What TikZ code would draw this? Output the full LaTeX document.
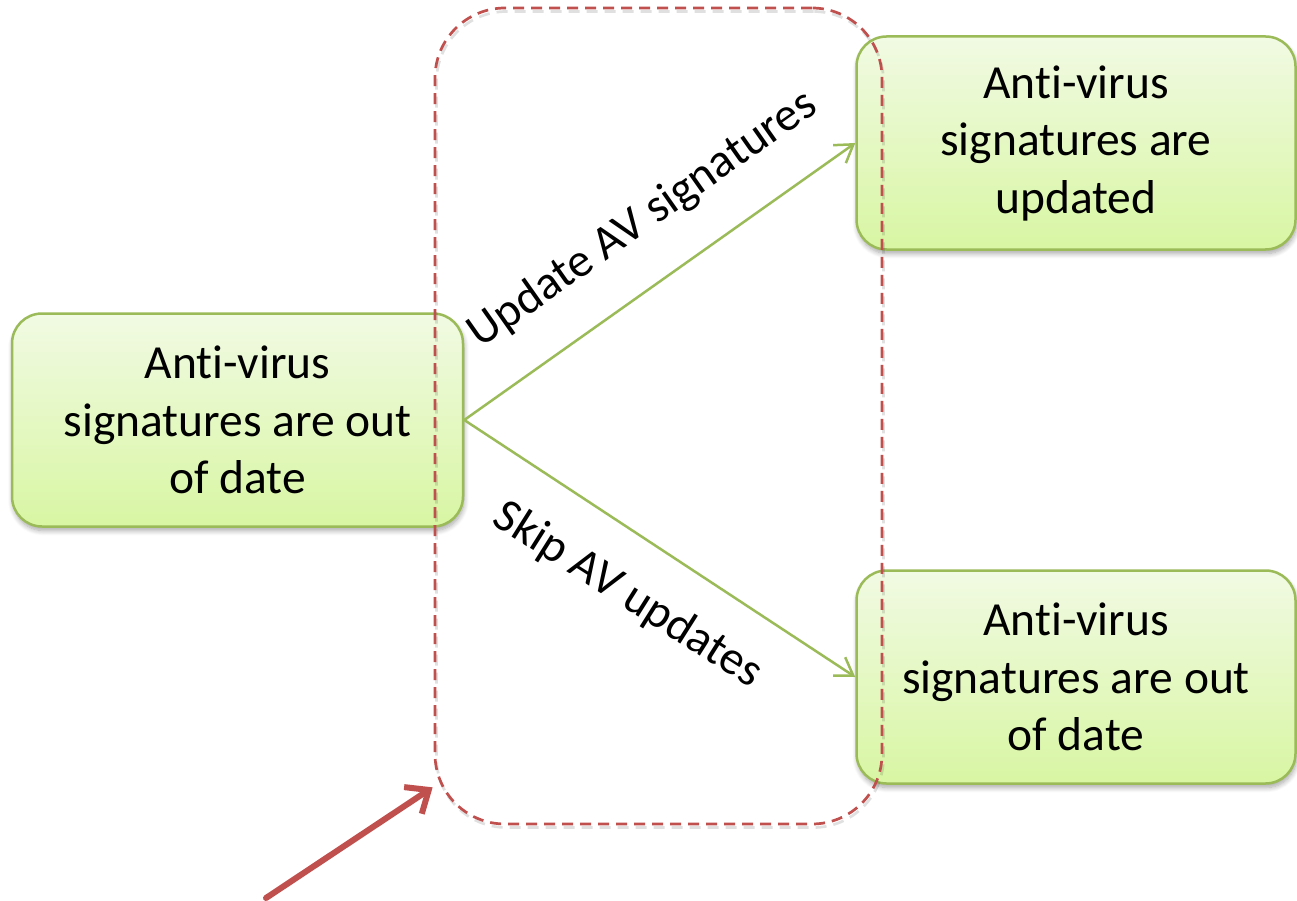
\documentclass[tikz,border=0pt]{standalone}
\usepackage{fontspec}
\setmainfont{Carlito}[Ligatures=NoCommon]
\usetikzlibrary{arrows.meta,shadows.blur,calc}
\definecolor{boxedge}{HTML}{9BBB59}
\definecolor{boxtop}{HTML}{F1FAE3}
\definecolor{boxbottom}{HTML}{D8F6A3}
\definecolor{alertred}{HTML}{C0504D}
\tikzset{
  statebox/.style={draw=boxedge, line width=2.5pt, rounded corners=30pt,
    top color=boxtop, bottom color=boxbottom,
    minimum width=#1, minimum height=213pt, align=center, inner sep=0pt,
    font=\fontsize{47.5}{57.5}\selectfont,
    blur shadow={shadow xshift=1pt, shadow yshift=-4pt, shadow blur radius=5pt,
      shadow blur steps=8, shadow opacity=35}},
  transition/.style={draw=boxedge, line width=2.5pt,
    -{Straight Barb[length=17pt,width=22pt]}},
  edgelabel/.style={font=\fontsize{47.5}{57.5}\selectfont, anchor=base, inner sep=0pt},
  groupbox/.style={draw=alertred, line width=2.7pt, rounded corners=70pt,
    dash pattern=on 11pt off 7pt, inner sep=0pt},
  pointer/.style={draw=alertred, line width=6pt, line cap=round, line join=round,
    -{Straight Barb[length=19pt,width=32pt]}},
}
\begin{document}
\begin{tikzpicture}[x=1pt,y=-1pt]
  \useasboundingbox (0,0) rectangle (1297,901);

  % states
  \node[statebox=451pt] (src) at (237.5,420)
    {Anti-virus\\signatures are out\\of date};
  \node[statebox=439pt] (upd) at (1076,143)
    {Anti-virus\\signatures are\\updated};
  \node[statebox=439pt] (old) at (1076,677)
    {Anti-virus\\signatures are out\\of date};

  % transitions
  \draw[transition] (src.east) -- (upd.west);
  \draw[transition] (src.east) -- (old.west);
  \node[edgelabel, rotate=35.1] (lblup) at (650,230) {Update AV signatures};
  \node[edgelabel, rotate=-32.3] (lbldown) at (621,606) {Skip AV updates};

  % dashed group around the actions, with a soft shadow
  \node[groupbox, draw=black, opacity=0.12, minimum width=447pt, minimum height=816pt]
    (grpshadow) at (660,419.5) {};
  \node[groupbox, minimum width=447pt, minimum height=816pt] (grp) at (658.5,416) {};

  % pointer to the group
  \coordinate (redtail) at (266,898);
  \coordinate (redtip) at ($(grp.south west)+(-1,-38)$);
  \draw[pointer] (redtail) -- (redtip);
\end{tikzpicture}
\end{document}
